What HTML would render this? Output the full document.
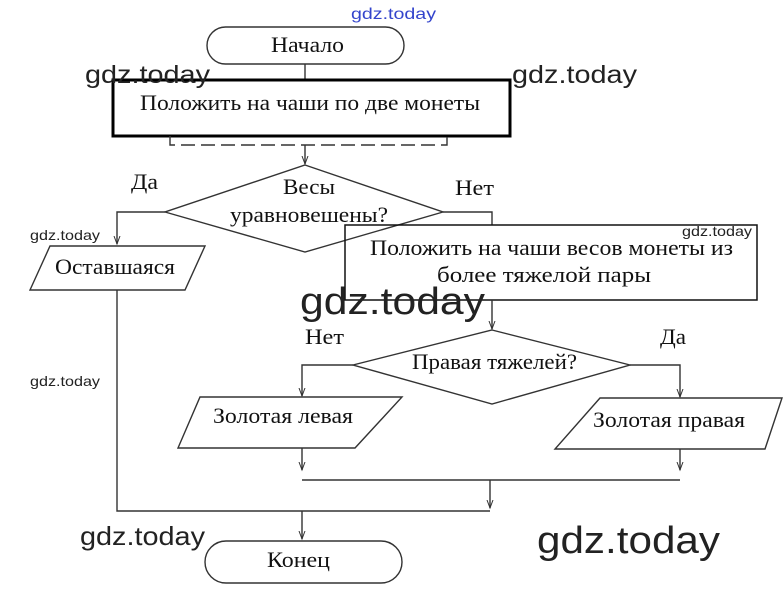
<!DOCTYPE html>
<html><head><meta charset="utf-8"><style>
html,body{margin:0;padding:0;background:#fff;}
svg{display:block}
text{font-family:"Liberation Serif","DejaVu Serif",serif;fill:#111;}
.w{font-family:"Liberation Sans","DejaVu Sans",sans-serif;fill:#222;}
</style></head><body>
<svg width="784" height="590" viewBox="0 0 784 590" xmlns="http://www.w3.org/2000/svg">
<defs><marker id="a" markerWidth="10" markerHeight="10" refX="8" refY="4" orient="auto" markerUnits="userSpaceOnUse"><path d="M0,1 L8,4 L0,7" fill="none" stroke="#333" stroke-width="1"/></marker></defs>
<g fill="none" stroke="#333" stroke-width="1.4">
<rect x="207" y="27" width="197" height="37" rx="18.5"/>
<line x1="305" y1="64" x2="305" y2="80"/>
<rect x="113" y="80" width="397" height="56" stroke="#000" stroke-width="3"/>
<polyline points="170,136 170,145 447,145 447,136" stroke-dasharray="14,6"/>
<line x1="305" y1="145" x2="305" y2="164" marker-end="url(#a)"/>
<polygon points="305,165 443,212 305,252 165,212"/>
<polyline points="165,212 117,212 117,244" marker-end="url(#a)"/>
<polygon points="50,246 205,246 185,290 30,290"/>
<polyline points="117,290 117,511 490,511"/>
<polyline points="443,212 492,212 492,225"/>
<rect x="345" y="225" width="412" height="75" stroke="#111" stroke-width="1.5"/>
<line x1="492" y1="300" x2="492" y2="329" marker-end="url(#a)"/>
<polygon points="492,330 630,365 492,404 353,365"/>
<polyline points="353,365 302,365 302,396" marker-end="url(#a)"/>
<polyline points="630,365 680,365 680,397" marker-end="url(#a)"/>
<polygon points="200,397 402,397 355,448 178,448"/>
<polygon points="600,398 782,398 765,449 555,449"/>
<line x1="302" y1="448" x2="302" y2="470" marker-end="url(#a)"/>
<line x1="680" y1="449" x2="680" y2="470" marker-end="url(#a)"/>
<line x1="302" y1="480" x2="680" y2="480"/>
<line x1="490" y1="480" x2="490" y2="508" marker-end="url(#a)"/>
<line x1="302" y1="511" x2="302" y2="539" marker-end="url(#a)"/>
<rect x="205" y="541" width="197" height="42" rx="21"/>
</g>
<g font-size="22">
<text x="271" y="52" textLength="73" lengthAdjust="spacingAndGlyphs">Начало</text>
<text x="140" y="110" textLength="340" lengthAdjust="spacingAndGlyphs">Положить на чаши по две монеты</text>
<text x="131" y="189" textLength="27" lengthAdjust="spacingAndGlyphs">Да</text>
<text x="455" y="195" textLength="39" lengthAdjust="spacingAndGlyphs">Нет</text>
<text x="283" y="194" textLength="52" lengthAdjust="spacingAndGlyphs">Весы</text>
<text x="230" y="222" textLength="158" lengthAdjust="spacingAndGlyphs">уравновешены?</text>
<text x="55" y="274" textLength="120" lengthAdjust="spacingAndGlyphs">Оставшаяся</text>
<text x="370" y="255" textLength="363" lengthAdjust="spacingAndGlyphs">Положить на чаши весов монеты из</text>
<text x="437" y="282" textLength="214" lengthAdjust="spacingAndGlyphs">более тяжелой пары</text>
<text x="305" y="344" textLength="39" lengthAdjust="spacingAndGlyphs">Нет</text>
<text x="660" y="344" textLength="26" lengthAdjust="spacingAndGlyphs">Да</text>
<text x="412" y="369" textLength="165" lengthAdjust="spacingAndGlyphs">Правая тяжелей?</text>
<text x="213" y="423" textLength="140" lengthAdjust="spacingAndGlyphs">Золотая левая</text>
<text x="593" y="427" textLength="152" lengthAdjust="spacingAndGlyphs">Золотая правая</text>
<text x="267" y="567" textLength="63" lengthAdjust="spacingAndGlyphs">Конец</text>
</g>
<g class="w">
<text class="w" x="351" y="19" font-size="16" textLength="85" lengthAdjust="spacingAndGlyphs" style="fill:#3344cc">gdz.today</text>
<text class="w" x="85" y="83" font-size="25" textLength="125" lengthAdjust="spacingAndGlyphs">gdz.today</text>
<text class="w" x="512" y="83" font-size="25" textLength="125" lengthAdjust="spacingAndGlyphs">gdz.today</text>
<text class="w" x="30" y="240" font-size="14" textLength="70" lengthAdjust="spacingAndGlyphs">gdz.today</text>
<text class="w" x="682" y="236" font-size="14" textLength="70" lengthAdjust="spacingAndGlyphs">gdz.today</text>
<text class="w" x="300" y="314" font-size="38" textLength="185" lengthAdjust="spacingAndGlyphs">gdz.today</text>
<text class="w" x="30" y="386" font-size="14" textLength="70" lengthAdjust="spacingAndGlyphs">gdz.today</text>
<text class="w" x="80" y="545" font-size="26" textLength="125" lengthAdjust="spacingAndGlyphs">gdz.today</text>
<text class="w" x="537" y="553" font-size="38" textLength="183" lengthAdjust="spacingAndGlyphs">gdz.today</text>
</g>
</svg>
</body></html>
